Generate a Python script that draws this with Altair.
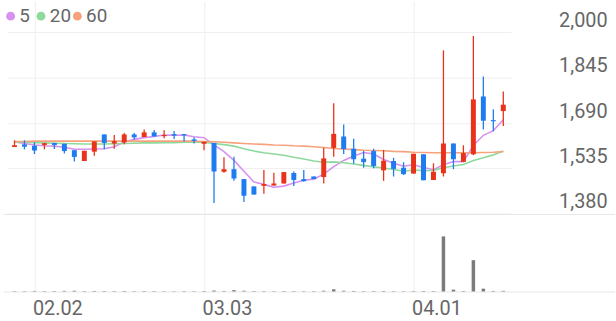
import json
import altair as alt
import pandas as pd

# ---------------- data ----------------
dates = ["01.29", "01.30", "02.02", "02.03", "02.04", "02.05", "02.06", "02.09", "02.10", "02.11",
         "02.12", "02.13", "02.19", "02.20", "02.23", "02.24", "02.25", "02.26", "02.27", "03.03",
         "03.04", "03.05", "03.06", "03.09", "03.10", "03.11", "03.12", "03.13", "03.16", "03.17",
         "03.18", "03.19", "03.20", "03.23", "03.24", "03.25", "03.26", "03.27", "03.30", "03.31",
         "04.01", "04.02", "04.03", "04.06", "04.07", "04.08", "04.09", "04.10", "04.13", "04.14"]

opens = [1608, 1617, 1612, 1615, 1622, 1619, 1597, 1560, 1592, 1651,
         1620, 1624, 1651, 1642, 1658, 1645, 1652, 1652, 1634, 1619,
         1622, 1523, 1532, 1498, 1473, 1475, 1476, 1483, 1519, 1498,
         1507, 1505, 1605, 1644, 1602, 1568, 1594, 1528, 1560, 1537,
         1517, 1583, 1495, 1518, 1620, 1557, 1583, 1781, 1700, 1731]
highs = [1631, 1631, 1624, 1622, 1622, 1619, 1597, 1595, 1627, 1651,
         1649, 1656, 1656, 1668, 1666, 1665, 1663, 1652, 1641, 1626,
         1622, 1573, 1575, 1498, 1473, 1529, 1520, 1522, 1524, 1529,
         1507, 1605, 1758, 1685, 1636, 1594, 1602, 1598, 1571, 1556,
         1585, 1583, 1552, 1939, 1620, 1614, 1988, 1849, 1737, 1798]
lows = [1608, 1600, 1584, 1600, 1601, 1586, 1558, 1560, 1578, 1600,
        1602, 1617, 1634, 1642, 1644, 1638, 1635, 1627, 1620, 1597,
        1416, 1520, 1492, 1420, 1445, 1448, 1476, 1483, 1474, 1489,
        1498, 1483, 1575, 1584, 1551, 1537, 1535, 1492, 1507, 1512,
        1517, 1494, 1495, 1507, 1532, 1557, 1580, 1668, 1662, 1680]
closes = [1614, 1609, 1596, 1621, 1615, 1594, 1574, 1595, 1627, 1622,
          1628, 1651, 1641, 1658, 1644, 1649, 1647, 1648, 1629, 1626,
          1524, 1532, 1500, 1441, 1445, 1481, 1483, 1522, 1495, 1491,
          1498, 1569, 1653, 1601, 1566, 1556, 1543, 1561, 1533, 1515,
          1585, 1494, 1523, 1620, 1566, 1587, 1771, 1698, 1696, 1753]
volumes = [40, 35, 50, 40, 45, 55, 60, 40, 50, 45,
           40, 50, 35, 45, 40, 35, 30, 40, 35, 45,
           70, 50, 90, 60, 45, 40, 35, 45, 40, 35,
           40, 60, 135, 60, 50, 40, 45, 50, 40, 35,
           45, 50, 45, 2800, 115, 50, 1600, 165, 50, 55]

ma5 = [1625, 1620, 1615, 1612, 1611, 1607, 1600, 1600, 1601, 1602,
       1609, 1625, 1634, 1640, 1644, 1649, 1648, 1649, 1643, 1640,
       1615, 1592, 1562, 1525, 1488, 1480, 1470, 1474, 1485, 1494,
       1498, 1515, 1541, 1562, 1577, 1589, 1584, 1565, 1552, 1542,
       1547, 1538, 1530, 1547, 1558, 1558, 1613, 1648, 1664, 1701]
ma20 = [1625, 1624, 1623, 1622, 1621, 1620, 1619, 1618, 1618, 1618,
        1619, 1620, 1621, 1622, 1622, 1623, 1623, 1624, 1624, 1624,
        1620, 1616, 1611, 1602, 1594, 1588, 1584, 1580, 1573, 1567,
        1560, 1556, 1557, 1554, 1550, 1545, 1540, 1536, 1531, 1525,
        1529, 1527, 1528, 1537, 1543, 1548, 1562, 1571, 1581, 1594]
ma60 = [1627, 1627, 1628, 1628, 1628, 1628, 1628, 1628, 1628, 1628,
        1628, 1628, 1628, 1628, 1628, 1628, 1628, 1628, 1628, 1627,
        1626, 1624, 1622, 1620, 1618, 1617, 1615, 1614, 1612, 1611,
        1609, 1606, 1603, 1601, 1599, 1597, 1596, 1595, 1593, 1592,
        1590, 1589, 1588, 1588, 1588, 1588, 1588, 1589, 1590, 1592]

ma_names = ["5", "20", "60"]
price_ticks = [1380, 1535, 1690, 1845, 2000]
date_ticks = ["02.02", "03.03", "04.01"]

# ---------------- styles ----------------
RED = "#e8321a"
BLUE = "#1e7cf0"
MA_COLORS = ["#d692ee", "#8ed99c", "#f6a27c"]
GRID = "#efefef"
SEP = "#e6e6e6"
TXT = "#666666"
FONT = "Roboto"
W = 508
# legend item placement (pixels inside the price panel)
LEG_DOT_X = [3.7, 34.3, 71.0]
LEG_TXT_X = [12.5, 43.2, 79.8]
LEG_Y = 15

n = len(dates)
idx = list(range(n))
candles = pd.DataFrame({"i": idx, "date": dates, "open": opens, "high": highs,
                        "low": lows, "close": closes, "vol": volumes})
candles["dir"] = ["up" if c >= o else "down" for o, c in zip(opens, closes)]

ma = pd.DataFrame({
    "i": idx * 3,
    "value": ma5 + ma20 + ma60,
    "series": [ma_names[0]] * n + [ma_names[1]] * n + [ma_names[2]] * n,
})

tick_idx = [dates.index(t) for t in date_ticks]
label_expr = json.dumps(dates) + "[datum.value]"

xscale = alt.Scale(domain=[-0.26, n - 1 + 0.26], nice=False, zero=False)
x_price = alt.X("i:Q", scale=xscale,
                axis=alt.Axis(values=tick_idx, grid=True, gridColor=GRID, labels=False,
                              ticks=False, domain=False, title=None))
y_scale = alt.Scale(domain=[1380, 2107], nice=False, zero=False)
y_axis = alt.Axis(orient="right", values=price_ticks, labelExpr="format(datum.value, ',')",
                  grid=True, gridColor=GRID,
                  ticks=False, domain=False, title=None, labelAlign="right",
                  labelBaseline="alphabetic", labelPadding=97, labelOffset=-6,
                  labelFontSize=20, labelColor=TXT, labelFont=FONT, labelFlush=False,
                  labelOverlap=False)

dir_color = alt.Color("dir:N", scale=alt.Scale(domain=["up", "down"], range=[RED, BLUE]),
                      legend=None)

lines = alt.Chart(ma).mark_line(strokeWidth=1.6).encode(
    x=x_price,
    y=alt.Y("value:Q", scale=y_scale, axis=y_axis),
    color=alt.Color("series:N", sort=ma_names,
                    scale=alt.Scale(domain=ma_names, range=MA_COLORS), legend=None),
)

wicks = alt.Chart(candles).mark_rule(strokeWidth=1.3).encode(
    x=x_price,
    y=alt.Y("low:Q", scale=y_scale, axis=y_axis),
    y2="high:Q",
    color=dir_color,
)
bodies = alt.Chart(candles).mark_bar(size=5).encode(
    x=x_price,
    y=alt.Y("open:Q", scale=y_scale, axis=y_axis),
    y2="close:Q",
    color=dir_color,
)

# legend for the moving averages
legend_layers = []
for name, col, dx, tx in zip(ma_names, MA_COLORS, LEG_DOT_X, LEG_TXT_X):
    item = pd.DataFrame({"label": [name]})
    legend_layers.append(
        alt.Chart(item).mark_circle(size=80, color=col, opacity=1).encode(
            x=alt.value(dx), y=alt.value(LEG_Y)))
    legend_layers.append(
        alt.Chart(item).mark_text(align="left", baseline="middle", fontSize=19,
                                  font=FONT, color=TXT).encode(
            x=alt.value(tx), y=alt.value(LEG_Y), text="label:N"))

price = alt.layer(lines, wicks, bodies, *legend_layers).resolve_scale(
    color="independent").properties(width=W, height=214)

x_vol = alt.X("i:Q", scale=xscale,
              axis=alt.Axis(values=tick_idx, grid=True, gridColor=GRID, labelExpr=label_expr,
                            ticks=False, domain=False, title=None, labelAlign="left",
                            labelBaseline="top", labelPadding=7, labelFontSize=20,
                            labelColor=TXT, labelFont=FONT, labelFlush=False,
                            labelOverlap=False, labelOffset=-2))

vbars = alt.Chart(candles).mark_bar(size=3.5, color="#7b7b7b").encode(
    x=x_vol,
    y=alt.Y("vol:Q", scale=alt.Scale(domain=[0, 3900], nice=False, zero=True), axis=None),
)

one = pd.DataFrame({"k": [0]})
sep_top = alt.Chart(one).mark_rule(color=SEP, strokeWidth=1).encode(
    x=alt.value(-3), x2=alt.value(613), y=alt.value(0))
sep_bot = alt.Chart(one).mark_rule(color=SEP, strokeWidth=1).encode(
    x=alt.value(-3), x2=alt.value(613), y=alt.value(78))

volume = alt.layer(vbars, sep_top, sep_bot).properties(width=W, height=78)

chart = alt.vconcat(price, volume, spacing=0).properties(
    padding={"left": 3, "top": 0, "right": 0, "bottom": 0}
).configure_view(stroke=None)

chart.save("out.html", embed_options={"renderer": "svg", "actions": False})
